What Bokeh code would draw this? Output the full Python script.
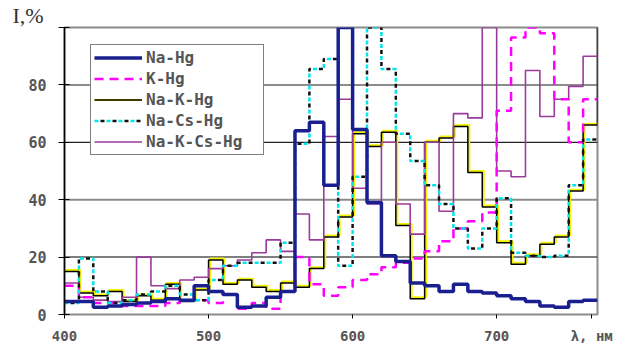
from bokeh.plotting import figure
from bokeh.models import Span, Legend, LegendItem, FixedTicker, Title
from bokeh.embed import file_html
from bokeh.resources import INLINE

# bin edges (nm), 10-nm bins; the last edge closes the last bin
wavelength = [400, 410, 420, 430, 440, 450, 460, 470, 480, 490,
              500, 510, 520, 530, 540, 550, 560, 570, 580, 590,
              600, 610, 620, 630, 640, 650, 660, 670, 680, 690,
              700, 710, 720, 730, 740, 750, 760, 770]

# intensity (%) per bin, bins start at 400 ... 760
na_hg = [4.5, 4.5, 2.5, 3, 3.5, 4, 4.5, 5.5, 5, 10,
         8, 7, 2.5, 3, 6, 8, 64, 67, 45, 100,
         64.5, 39, 20.5, 18.5, 11, 10, 8, 10.5, 8, 7.5,
         6.5, 5.5, 4.5, 3, 2.5, 4.5, 5]
k_hg = [10, 6, 4, 4, 3, 3, 3, 4, 5, 5,
        4, 7, 2, 4, 2, 8, 20, 10.5, 6.5, 9.5,
        12, 14, 16.5, 18, 19.5, 22, 25.5, 30, 32.5, 35.5,
        71, 96.5, 100, 98, 75, 60, 75]
na_k_hg = [15, 7.5, 6.5, 8, 4.5, 6.5, 5, 10.5, 4.5, 8.5,
           19, 10.5, 12, 9.5, 8, 11, 9.5, 16, 27, 34,
           63, 58.5, 63.5, 31, 5.5, 60, 61.5, 65.5, 49.5, 37.5,
           25, 17.5, 20.5, 24.5, 27, 43, 66]
na_cs_hg = [4, 19.5, 8, 4, 5, 7, 8, 10, 7, 5,
            12, 17, 18, 18, 18, 25, 59.5, 85.5, 89, 17,
            48, 100, 85.5, 63, 53.5, 45, 38.5, 30, 23, 30,
            40.5, 21.5, 20.5, 20, 20.5, 45, 61]
na_k_cs_hg = [11, 6, 5, 4.5, 6, 20, 10, 9, 12, 13,
              16, 17, 19, 21.5, 26, 22, 35, 26, 62, 75,
              44, 38.5, 60, 38.5, 28, 60, 36, 70, 68.5, 100,
              50, 48, 85, 69, 75, 79.5, 90]
# value reached at the right edge (770 nm)
na_k_hg_edge = 100

y_ticks = [0, 20, 40, 60, 80, 100]
y_tick_labels = ["0", "20", "40", "60", "80", ""]
x_ticks = [400, 500, 600, 700, 766]
x_tick_labels = ["400", "500", "600", "700", "λ, нм"]
y_title = "I,%"


def closed(vals, end=None):
    return list(vals) + [vals[-1] if end is None else end]


p = figure(width=622, height=347, x_range=(400, 770), y_range=(0, 100),
           output_backend="svg", toolbar_location=None,
           min_border_left=64, min_border_right=25,
           min_border_top=25, min_border_bottom=33,
           background_fill_color="white", border_fill_color="white")
p.xgrid.visible = False
p.ygrid.visible = False
p.outline_line_color = "#8c8c8c"
p.outline_line_width = 2

# gridlines
for lvl, col, w in [(20, "#555555", 1.5), (40, "#8c8c8c", 2), (60, "#222222", 1.2), (80, "#8c8c8c", 2)]:
    p.add_layout(Span(location=lvl, dimension="width", line_color=col, line_width=w, level="underlay"))

r_nak_sh = p.step(x=[e + 1.0 for e in wavelength], y=[v + 0.5 for v in closed(na_k_hg, na_k_hg_edge)],
                  mode="after", line_color="#f2f200", line_width=2)
r_nak = p.step(x=wavelength, y=closed(na_k_hg, na_k_hg_edge), mode="after",
               line_color="black", line_width=1.5)
r_nakcs = p.step(x=wavelength, y=closed(na_k_cs_hg), mode="after",
                 line_color="#9a3a9a", line_width=1.6)
r_k = p.step(x=wavelength, y=closed(k_hg), mode="after",
             line_color="#ff00ff", line_width=2.5, line_dash="9 6")
r_nacs_c = p.step(x=wavelength, y=closed(na_cs_hg), mode="after",
                  line_color="#00e5ee", line_width=2.5, line_dash="4 8")
r_nacs_b = p.step(x=wavelength, y=closed(na_cs_hg), mode="after",
                  line_color="#111111", line_width=2.5, line_dash="4 8", line_dash_offset=6)
r_na = p.step(x=wavelength, y=closed(na_hg), mode="after",
              line_color="#1a1f8f", line_width=3.5)

tick_font = "DejaVu Sans Mono"
p.xaxis.ticker = FixedTicker(ticks=x_ticks)
p.xaxis.major_label_overrides = dict(zip(x_ticks, x_tick_labels))
p.xaxis.axis_line_color = None
p.xaxis.major_tick_in = 0
p.xaxis.major_tick_out = 4
p.xaxis.major_tick_line_color = "black"
p.xaxis.minor_tick_line_color = None
p.xaxis.major_label_standoff = 9
p.xaxis.major_label_text_font_size = "14px"
p.yaxis.ticker = FixedTicker(ticks=y_ticks)
p.yaxis.major_label_overrides = dict(zip(y_ticks, y_tick_labels))
p.yaxis.axis_line_color = "black"
p.yaxis.axis_line_width = 1.5
p.yaxis.major_tick_in = 5
p.yaxis.major_tick_out = 6
p.yaxis.major_tick_line_color = "black"
p.yaxis.minor_tick_line_color = None
p.yaxis.major_label_standoff = 12
p.yaxis.major_label_text_font_size = "15px"
for ax in (p.xaxis, p.yaxis):
    ax.major_label_text_font = tick_font
    ax.major_label_text_font_style = "bold"
    ax.major_label_text_color = "#555555"

p.add_layout(Title(text=y_title, align="left", offset=-52, standoff=0,
                   text_font="Liberation Serif", text_font_size="22px",
                   text_font_style="normal", text_color="#333333"), "above")

legend = Legend(items=[
    LegendItem(label="Na-Hg", renderers=[r_na]),
    LegendItem(label="K-Hg", renderers=[r_k]),
    LegendItem(label="Na-K-Hg", renderers=[r_nak_sh, r_nak]),
    LegendItem(label="Na-Cs-Hg", renderers=[r_nacs_c, r_nacs_b]),
    LegendItem(label="Na-K-Cs-Hg", renderers=[r_nakcs]),
], location=(26, 159), border_line_color="black", border_line_width=1,
    background_fill_color="white", background_fill_alpha=1.0,
    label_text_font=tick_font, label_text_font_size="16px", label_text_font_style="bold",
    label_text_color="#555555", glyph_width=48, glyph_height=19, label_height=19,
    label_width=114, spacing=2, padding=3, margin=0, label_standoff=4)
p.add_layout(legend)

open("out.html", "w").write(file_html(p, INLINE))
